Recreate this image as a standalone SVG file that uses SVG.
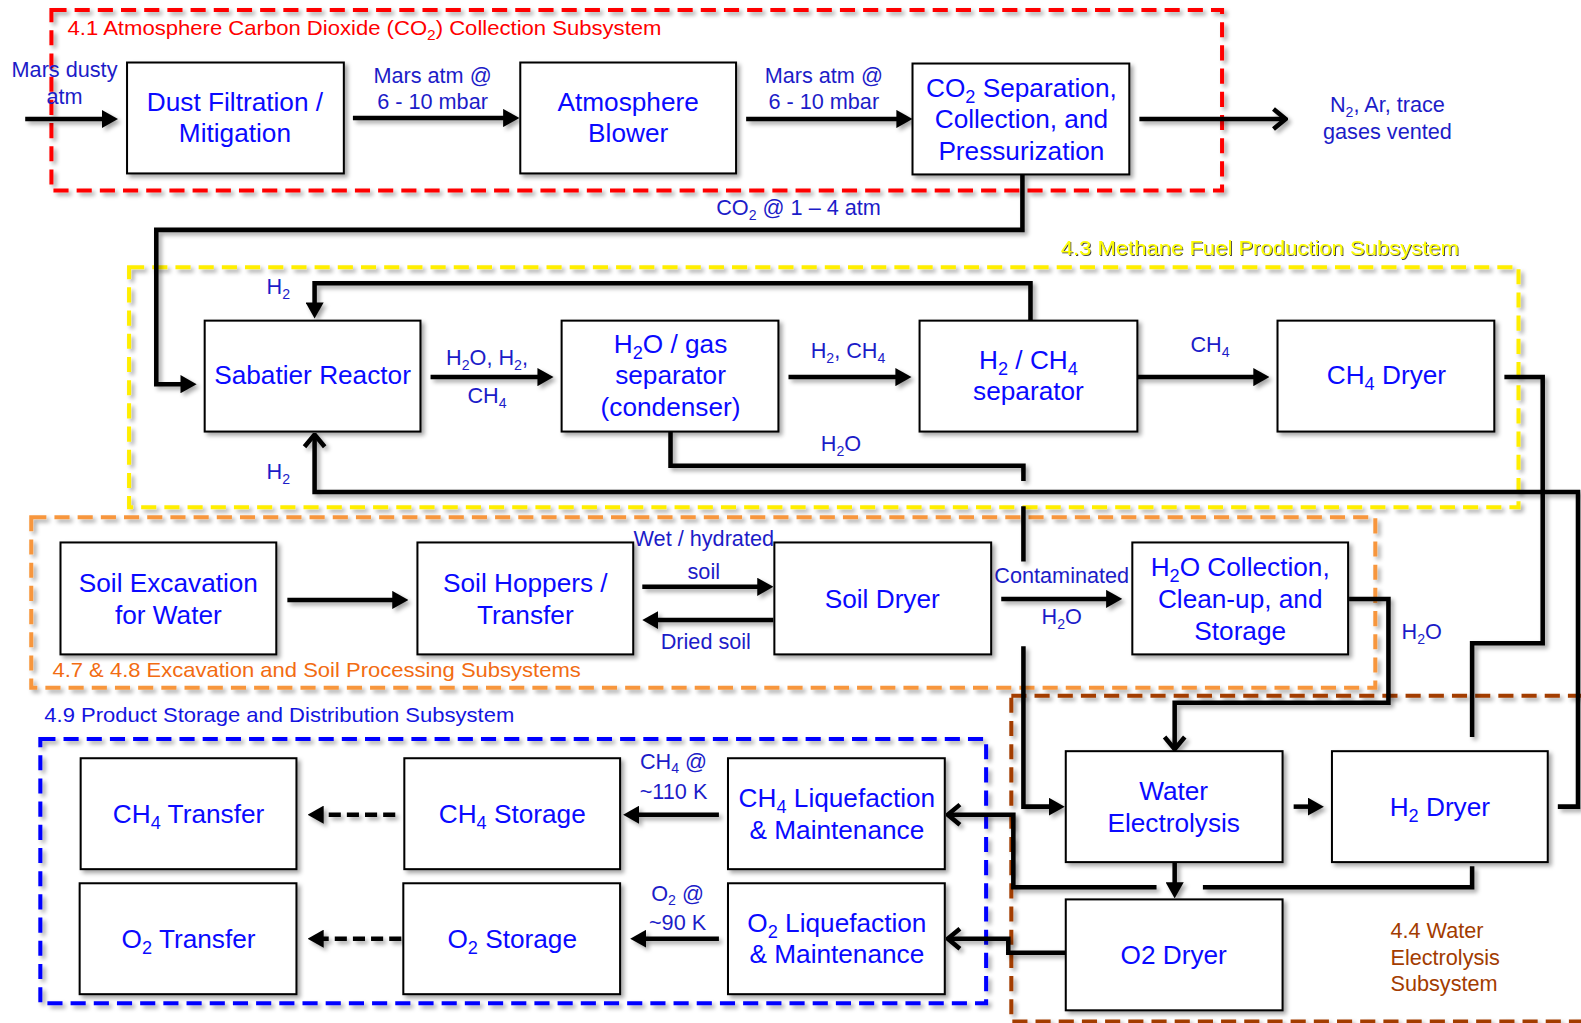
<svg xmlns="http://www.w3.org/2000/svg" width="1581" height="1023" viewBox="0 0 1581 1023">
<style>
.bg{fill:#ffffff}
.node rect{fill:#ffffff;stroke:#000;stroke-width:2}
.nt{font-family:"Liberation Sans",Arial,sans-serif;font-size:26px;fill:#0a0aff;text-anchor:middle}
.lb{font-family:"Liberation Sans",Arial,sans-serif;font-size:21.5px;fill:#1c1cc8;text-anchor:middle}
.gl{font-family:"Liberation Sans",Arial,sans-serif;font-size:20px}
.gb{font-family:"Liberation Sans",Arial,sans-serif;font-size:21.5px;fill:#a33c00}
.grp{fill:none;stroke-width:4;stroke-dasharray:15,8}
.c{fill:none;stroke:#000;stroke-width:4.5;stroke-linejoin:miter}
.cf{marker-end:url(#fa)}
.co{marker-end:url(#oa)}
.cd{stroke-dasharray:12,6}
</style>
<defs>
<filter id="sh" x="-10%" y="-10%" width="130%" height="130%">
<feDropShadow dx="3" dy="3" stdDeviation="2" flood-color="#000" flood-opacity="0.35"/>
</filter>
<filter id="ysh" x="-5%" y="-30%" width="110%" height="160%">
<feDropShadow dx="1" dy="1" stdDeviation="0.6" flood-color="#333" flood-opacity="0.9"/>
</filter>
<marker id="fa" markerUnits="userSpaceOnUse" viewBox="0 0 16 18" markerWidth="16" markerHeight="18" refX="1" refY="9" orient="auto">
<path d="M0,0 L16,9 L0,18 z" fill="#000"/>
</marker>
<marker id="oa" markerUnits="userSpaceOnUse" viewBox="-2 -3 16 26" markerWidth="16" markerHeight="26" refX="12" refY="10" orient="auto">
<path d="M0,0 L12,10 L0,20" fill="none" stroke="#000" stroke-width="4.5"/>
</marker>
</defs>
<rect class="bg" x="0" y="0" width="1581" height="1023"/>
<g transform="scale(1.0083)">
<g id="groups">
<rect class="grp" x="51" y="10" width="1161" height="179" stroke="#ff0000" filter="url(#sh)"/>
<rect class="grp" x="128" y="265" width="1378" height="238" stroke="#ffee00" filter="url(#sh)"/>
<rect class="grp" x="31" y="513" width="1333" height="169" stroke="#f7963c" filter="url(#sh)"/>
<rect class="grp" x="1003" y="690" width="640" height="323" stroke="#a33c00" filter="url(#sh)"/>
<rect class="grp" x="40" y="733" width="938" height="262" stroke="#0000ff" filter="url(#sh)"/>
<text class="gl" x="67" y="35" fill="#ff0000" textLength="589" lengthAdjust="spacingAndGlyphs">4.1 Atmosphere Carbon Dioxide (CO<tspan font-size="14" dy="5">2</tspan><tspan dy="-5">) Collection Subsystem</tspan></text>
<text class="gl" x="1052" y="253" fill="#ffff00" filter="url(#ysh)" textLength="395" lengthAdjust="spacingAndGlyphs">4.3 Methane Fuel Production Subsystem</text>
<text class="gl" x="52" y="671" fill="#f26c12" textLength="524" lengthAdjust="spacingAndGlyphs">4.7 &amp; 4.8 Excavation and Soil Processing Subsystems</text>
<text class="gl" x="44" y="716" fill="#1414e0" textLength="466" lengthAdjust="spacingAndGlyphs">4.9 Product Storage and Distribution Subsystem</text>
<text class="gb" x="1379" y="930">4.4 Water</text>
<text class="gb" x="1379" y="957">Electrolysis</text>
<text class="gb" x="1379" y="983">Subsystem</text>
</g>

<g id="connectors" filter="url(#sh)">
<path class="c cf" d="M25,118 H102"/>
<path class="c cf" d="M350,117 H500"/>
<path class="c cf" d="M740,118 H890"/>
<path class="c co" d="M1130,118 H1275"/>
<path class="c cf" d="M1014,173 V228 H155 V381 H180"/>
<path class="c cf" d="M427,374 H534"/>
<path class="c cf" d="M782,374 H889"/>
<path class="c cf" d="M1128,374 H1244"/>
<path class="c cf" d="M1022,318 V281 H312 V301"/>
<path class="c co" d="M1545,800 H1565 V488 H312 V431"/>
<path class="c cf" d="M665,428 V462 H1015 V477 M1015,502 V557 M1015,641 V800 H1041"/>
<path class="c co" d="M1492,374 H1530 V638 H1460 V731 M1460,859 V880 H1193 M1147,880 H1005 V808 H940"/>
<path class="c co" d="M1338,594 H1377 V697 H1165 V743"/>
<path class="c cf" d="M285,595 H390"/>
<path class="c cf" d="M637,582 H752"/>
<path class="c cf" d="M767,615 H652"/>
<path class="c cf" d="M993,594 H1098"/>
<path class="c cf" d="M1283,800 H1298"/>
<path class="c cf" d="M1165,855 V876"/>
<path class="c co" d="M1057,945 H1000 V931 H940"/>
<path class="c cf" d="M713,808 H633"/>
<path class="c cf" d="M713,931 H640"/>
<path class="c cf cd" d="M392,808 H320"/>
<path class="c cf cd" d="M398,931 H320"/>
</g>

<g id="edge-labels">
<text class="lb" x="64" y="76">Mars dusty</text>
<text class="lb" x="64" y="103">atm</text>
<text class="lb" x="429" y="82">Mars atm @</text>
<text class="lb" x="429" y="108">6 - 10 mbar</text>
<text class="lb" x="817" y="82">Mars atm @</text>
<text class="lb" x="817" y="108">6 - 10 mbar</text>
<text class="lb" x="1376" y="111">N<tspan font-size="14" dy="5">2</tspan><tspan dy="-5">, Ar, trace</tspan></text>
<text class="lb" x="1376" y="138">gases vented</text>
<text class="lb" x="792" y="213">CO<tspan font-size="14" dy="5">2</tspan><tspan dy="-5"> @ 1 – 4 atm</tspan></text>
<text class="lb" x="276" y="292">H<tspan font-size="14" dy="5">2</tspan></text>
<text class="lb" x="276" y="475">H<tspan font-size="14" dy="5">2</tspan></text>
<text class="lb" x="483" y="362">H<tspan font-size="14" dy="5">2</tspan><tspan dy="-5">O, H</tspan><tspan font-size="14" dy="5">2</tspan><tspan dy="-5">,</tspan></text>
<text class="lb" x="483" y="400">CH<tspan font-size="14" dy="5">4</tspan></text>
<text class="lb" x="841" y="355">H<tspan font-size="14" dy="5">2</tspan><tspan dy="-5">, CH</tspan><tspan font-size="14" dy="5">4</tspan></text>
<text class="lb" x="1200" y="349">CH<tspan font-size="14" dy="5">4</tspan></text>
<text class="lb" x="834" y="447">H<tspan font-size="14" dy="5">2</tspan><tspan dy="-5">O</tspan></text>
<text class="lb" x="698" y="542">Wet / hydrated</text>
<text class="lb" x="698" y="574">soil</text>
<text class="lb" x="700" y="644">Dried soil</text>
<text class="lb" x="1053" y="578">Contaminated</text>
<text class="lb" x="1053" y="619">H<tspan font-size="14" dy="5">2</tspan><tspan dy="-5">O</tspan></text>
<text class="lb" x="1410" y="634">H<tspan font-size="14" dy="5">2</tspan><tspan dy="-5">O</tspan></text>
<text class="lb" x="668" y="763">CH<tspan font-size="14" dy="4">4</tspan><tspan dy="-4"> @</tspan></text>
<text class="lb" x="668" y="792">~110 K</text>
<text class="lb" x="672" y="894">O<tspan font-size="14" dy="4">2</tspan><tspan dy="-4"> @</tspan></text>
<text class="lb" x="672" y="922">~90 K</text>
</g>

<g id="nodes">
<g id="dust" class="node"><rect x="126" y="62" width="215" height="110" filter="url(#sh)"/><text class="nt" x="233" y="110">Dust Filtration /</text><text class="nt" x="233" y="141">Mitigation</text></g>
<g id="blower" class="node"><rect x="516" y="62" width="214" height="110" filter="url(#sh)"/><text class="nt" x="623" y="110">Atmosphere</text><text class="nt" x="623" y="141">Blower</text></g>
<g id="co2sep" class="node"><rect x="905" y="63" width="215" height="110" filter="url(#sh)"/><text class="nt" x="1013" y="96">CO<tspan font-size="18" dy="6">2</tspan><tspan dy="-6"> Separation,</tspan></text><text class="nt" x="1013" y="127">Collection, and</text><text class="nt" x="1013" y="159">Pressurization</text></g>
<g id="sabatier" class="node"><rect x="203" y="318" width="214" height="110" filter="url(#sh)"/><text class="nt" x="310" y="381">Sabatier Reactor</text></g>
<g id="h2osep" class="node"><rect x="557" y="318" width="215" height="110" filter="url(#sh)"/><text class="nt" x="665" y="350">H<tspan font-size="18" dy="6">2</tspan><tspan dy="-6">O / gas</tspan></text><text class="nt" x="665" y="381">separator</text><text class="nt" x="665" y="413">(condenser)</text></g>
<g id="h2ch4sep" class="node"><rect x="912" y="318" width="216" height="110" filter="url(#sh)"/><text class="nt" x="1020" y="366">H<tspan font-size="18" dy="6">2</tspan><tspan dy="-6"> / CH</tspan><tspan font-size="18" dy="6">4</tspan></text><text class="nt" x="1020" y="397">separator</text></g>
<g id="ch4dryer" class="node"><rect x="1267" y="318" width="215" height="110" filter="url(#sh)"/><text class="nt" x="1375" y="381">CH<tspan font-size="18" dy="6">4</tspan><tspan dy="-6"> Dryer</tspan></text></g>
<g id="soilexc" class="node"><rect x="60" y="538" width="214" height="111" filter="url(#sh)"/><text class="nt" x="167" y="587">Soil Excavation</text><text class="nt" x="167" y="619">for Water</text></g>
<g id="hoppers" class="node"><rect x="414" y="538" width="214" height="111" filter="url(#sh)"/><text class="nt" x="521" y="587">Soil Hoppers /</text><text class="nt" x="521" y="619">Transfer</text></g>
<g id="soildryer" class="node"><rect x="768" y="538" width="215" height="111" filter="url(#sh)"/><text class="nt" x="875" y="603">Soil Dryer</text></g>
<g id="h2ocoll" class="node"><rect x="1123" y="538" width="214" height="111" filter="url(#sh)"/><text class="nt" x="1230" y="571">H<tspan font-size="18" dy="6">2</tspan><tspan dy="-6">O Collection,</tspan></text><text class="nt" x="1230" y="603">Clean-up, and</text><text class="nt" x="1230" y="635">Storage</text></g>
<g id="electrolysis" class="node"><rect x="1057" y="745" width="215" height="110" filter="url(#sh)"/><text class="nt" x="1164" y="793">Water</text><text class="nt" x="1164" y="825">Electrolysis</text></g>
<g id="h2dryer" class="node"><rect x="1321" y="745" width="214" height="110" filter="url(#sh)"/><text class="nt" x="1428" y="809">H<tspan font-size="18" dy="6">2</tspan><tspan dy="-6"> Dryer</tspan></text></g>
<g id="o2dryer" class="node"><rect x="1057" y="892" width="215" height="110" filter="url(#sh)"/><text class="nt" x="1164" y="956">O2 Dryer</text></g>
<g id="ch4transfer" class="node"><rect x="80" y="752" width="214" height="110" filter="url(#sh)"/><text class="nt" x="187" y="816">CH<tspan font-size="18" dy="6">4</tspan><tspan dy="-6"> Transfer</tspan></text></g>
<g id="ch4storage" class="node"><rect x="401" y="752" width="214" height="110" filter="url(#sh)"/><text class="nt" x="508" y="816">CH<tspan font-size="18" dy="6">4</tspan><tspan dy="-6"> Storage</tspan></text></g>
<g id="ch4liq" class="node"><rect x="722" y="752" width="215" height="110" filter="url(#sh)"/><text class="nt" x="830" y="800">CH<tspan font-size="18" dy="6">4</tspan><tspan dy="-6"> Liquefaction</tspan></text><text class="nt" x="830" y="832">&amp; Maintenance</text></g>
<g id="o2transfer" class="node"><rect x="79" y="876" width="215" height="110" filter="url(#sh)"/><text class="nt" x="187" y="940">O<tspan font-size="18" dy="6">2</tspan><tspan dy="-6"> Transfer</tspan></text></g>
<g id="o2storage" class="node"><rect x="400" y="876" width="215" height="110" filter="url(#sh)"/><text class="nt" x="508" y="940">O<tspan font-size="18" dy="6">2</tspan><tspan dy="-6"> Storage</tspan></text></g>
<g id="o2liq" class="node"><rect x="722" y="876" width="215" height="110" filter="url(#sh)"/><text class="nt" x="830" y="924">O<tspan font-size="18" dy="6">2</tspan><tspan dy="-6"> Liquefaction</tspan></text><text class="nt" x="830" y="955">&amp; Maintenance</text></g>
</g>
</g>
</svg>
